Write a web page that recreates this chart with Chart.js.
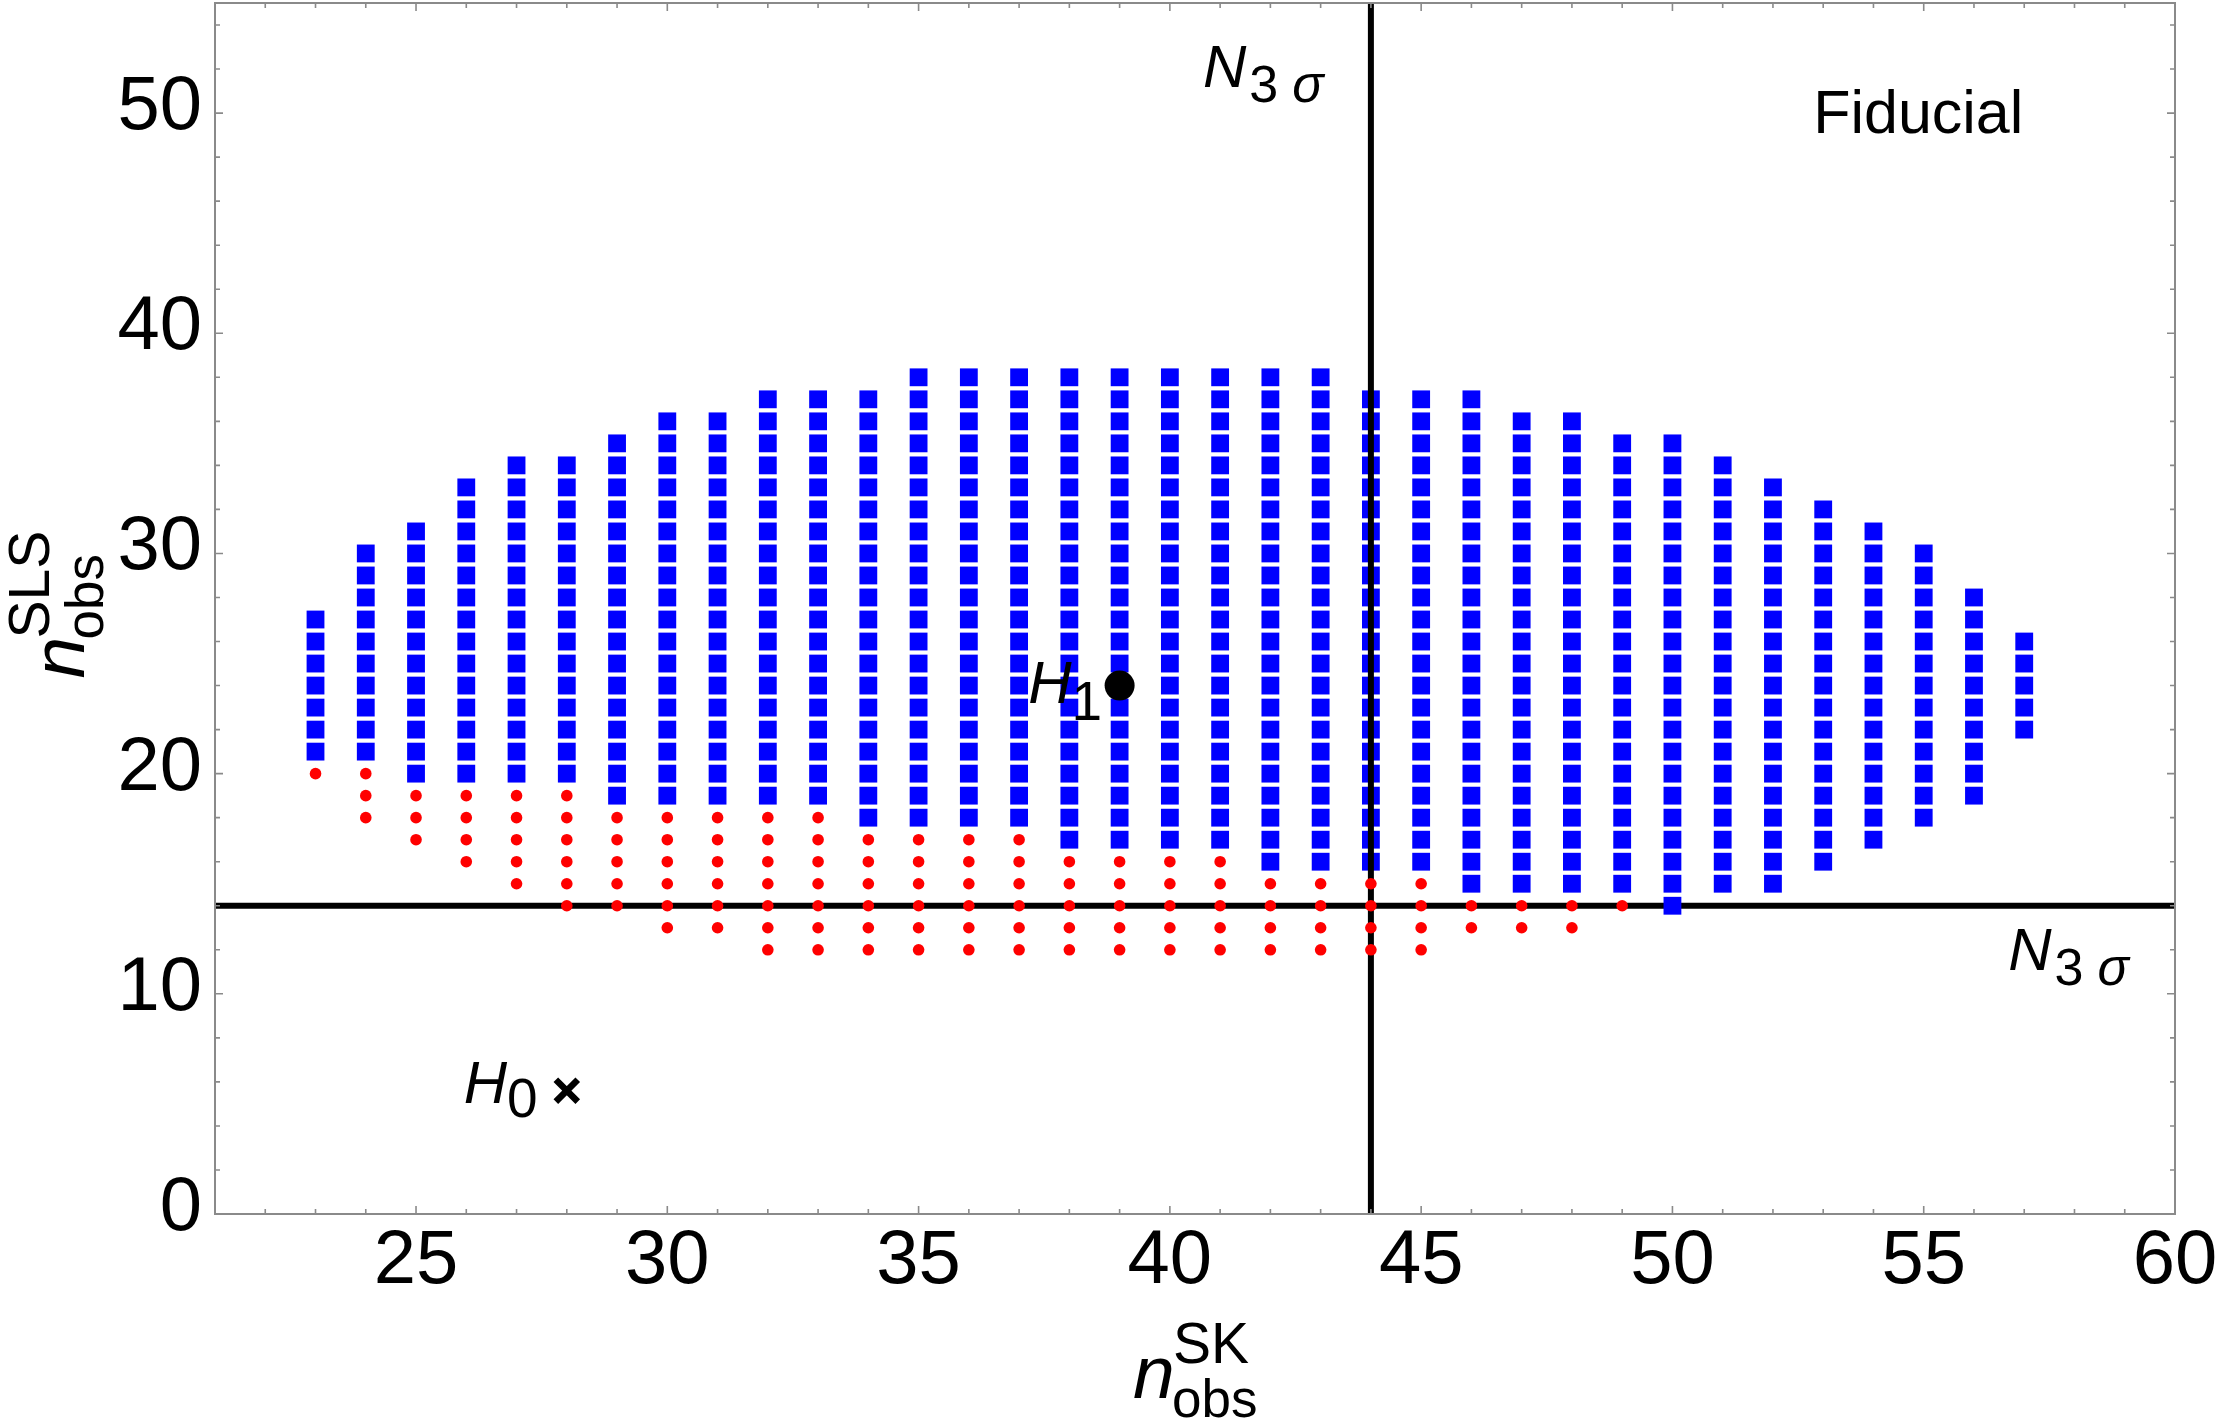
<!DOCTYPE html>
<html>
<head>
<meta charset="utf-8">
<script src="https://cdn.jsdelivr.net/npm/chart.js@4.4.1/dist/chart.umd.min.js"></script>
<style>
html,body{margin:0;padding:0;background:#fff;overflow:hidden}
canvas{display:block}
</style>
</head>
<body>
<canvas id="c" width="2221" height="1425"></canvas>
<script>
// ---- data ----
// blue squares: every integer n_obs^SLS from low to high in each n_obs^SK column
const skColumns   = [23,24,25,26,27,28,29,30,31,32,33,34,35,36,37,38,39,40,41,42,43,44,45,46,47,48,49,50,51,52,53,54,55,56,57];
const slsBlueLow  = [21,21,20,20,20,20,19,19,19,19,19,18,18,18,18,17,17,17,17,16,16,16,16,15,15,15,15,14,15,15,16,17,18,19,22];
const slsBlueHigh = [27,30,31,33,34,34,35,36,36,37,37,37,38,38,38,38,38,38,38,38,38,37,37,37,36,36,35,35,34,33,32,31,30,28,26];
// red dots
const skRedColumns = [23,24,25,26,27,28,29,30,31,32,33,34,35,36,37,38,39,40,41,42,43,44,45,46,47,48,49];
const slsRedLow    = [20,18,17,16,15,14,14,13,13,12,12,12,12,12,12,12,12,12,12,12,12,12,12,13,13,13,14];
const slsRedHigh   = [20,20,19,19,19,19,18,18,18,18,18,17,17,17,17,16,16,16,16,15,15,15,15,14,14,14,14];
// hypotheses
const h1Point = [39, 24];
const h0Point = [28, 5.6];
// 3 sigma thresholds
const n3SigmaSK  = 44;
const n3SigmaSLS = 14;
// axes
const xRange = [21, 60];
const yRange = [0, 55];
const xTickValues = [25,30,35,40,45,50,55,60];
const yTickValues = [0,10,20,30,40,50];

// ---- build point lists ----
const bluePts = [];
skColumns.forEach((x, i) => {
  for (let y = slsBlueLow[i]; y <= slsBlueHigh[i]; y++) bluePts.push({x, y});
});
const redPts = [];
skRedColumns.forEach((x, i) => {
  for (let y = slsRedLow[i]; y <= slsRedHigh[i]; y++) redPts.push({x, y});
});

const FAM = '"Liberation Sans", Arial, Helvetica, sans-serif';

function drawRich(ctx, x, y, segs) {
  let cx = x;
  ctx.textAlign = 'left';
  ctx.textBaseline = 'alphabetic';
  for (const s of segs) {
    ctx.font = s.font;
    cx += (s.gap || 0);
    const px = (s.x !== undefined) ? x + s.x : cx;
    ctx.fillText(s.text, px, y + (s.dy || 0));
    cx = px + ctx.measureText(s.text).width;
  }
}

function axisTitleSegs(sup) {
  return [
    {text: 'n', font: 'italic 75px ' + FAM, x: 0},
    {text: sup, font: '57px ' + FAM, x: 40, dy: -35},
    {text: 'obs', font: '53px ' + FAM, x: 39, dy: 19}
  ];
}

const decorPlugin = {
  id: 'decor',
  afterDraw(chart) {
    const ctx = chart.ctx;
    const xs = chart.scales.x, ys = chart.scales.y;
    const a = chart.chartArea;
    ctx.save();
    // frame
    ctx.strokeStyle = '#8a8a8a';
    ctx.lineWidth = 2;
    ctx.strokeRect(a.left, a.top, a.right - a.left, a.bottom - a.top);
    // ticks (inward, all four sides)
    ctx.lineWidth = 1.6;
    ctx.beginPath();
    for (let v = Math.ceil(xRange[0]); v <= xRange[1]; v++) {
      const p = xs.getPixelForValue(v);
      const len = (v % 5 === 0) ? 8 : 5;
      ctx.moveTo(p, a.bottom); ctx.lineTo(p, a.bottom - len);
      ctx.moveTo(p, a.top); ctx.lineTo(p, a.top + len);
    }
    for (let v = yRange[0]; v <= yRange[1]; v += 2) {
      const p = ys.getPixelForValue(v);
      const len = (v % 10 === 0) ? 8 : 5;
      ctx.moveTo(a.left, p); ctx.lineTo(a.left + len, p);
      ctx.moveTo(a.right, p); ctx.lineTo(a.right - len, p);
    }
    ctx.stroke();

    // in-plot labels
    ctx.fillStyle = '#000';
    const n3 = [
      {text: 'N', font: 'italic 60px ' + FAM},
      {text: '3', font: '52px ' + FAM, gap: 3, dy: 15},
      {text: '\u03C3', font: 'italic 52px ' + FAM, gap: 14, dy: 15}
    ];
    drawRich(ctx, xs.getPixelForValue(40.66), ys.getPixelForValue(51.19), n3);
    drawRich(ctx, xs.getPixelForValue(56.68), ys.getPixelForValue(11.08), n3);
    drawRich(ctx, xs.getPixelForValue(52.80), ys.getPixelForValue(49.10), [{text: 'Fiducial', font: '61px ' + FAM}]);
    drawRich(ctx, xs.getPixelForValue(37.18), ys.getPixelForValue(23.21), [
      {text: 'H', font: 'italic 60px ' + FAM},
      {text: '1', font: '55px ' + FAM, dy: 17}
    ]);
    drawRich(ctx, xs.getPixelForValue(25.95), ys.getPixelForValue(5.05), [
      {text: 'H', font: 'italic 60px ' + FAM},
      {text: '0', font: '55px ' + FAM, dy: 14}
    ]);

    // axis titles
    const cxp = (a.left + a.right) / 2;
    drawRich(ctx, cxp - 62, a.bottom + 184, axisTitleSegs('SK'));
    const cyp = (a.top + a.bottom) / 2;
    ctx.save();
    ctx.translate(84, cyp + 70);
    ctx.rotate(-Math.PI / 2);
    drawRich(ctx, 0, 0, axisTitleSegs('SLS'));
    ctx.restore();

    ctx.restore();
  }
};

const tickFont = {family: FAM, size: 76};

new Chart(document.getElementById('c').getContext('2d'), {
  type: 'scatter',
  data: {
    datasets: [
      {label: 'H1', data: [{x: h1Point[0], y: h1Point[1]}], pointStyle: 'circle', pointRadius: 15,
       backgroundColor: '#000', borderColor: '#000', borderWidth: 0, order: 1},
      {label: 'H0', data: [{x: h0Point[0], y: h0Point[1]}], pointStyle: 'crossRot', pointRadius: 15.5,
       backgroundColor: '#000', borderColor: '#000', borderWidth: 6.5, order: 1},
      {label: 'below', data: redPts, pointStyle: 'circle', pointRadius: 5.8,
       backgroundColor: '#ff0000', borderColor: '#ff0000', borderWidth: 0, order: 2},
      {label: 'N3sigma SK', type: 'line', data: [{x: n3SigmaSK, y: yRange[0]}, {x: n3SigmaSK, y: yRange[1]}],
       borderColor: '#000', borderWidth: 6, pointRadius: 0, fill: false, tension: 0, order: 3},
      {label: 'above', data: bluePts, pointStyle: 'rect', pointRadius: 12.6,
       backgroundColor: '#0000ff', borderColor: '#0000ff', borderWidth: 0, order: 4},
      {label: 'N3sigma SLS', type: 'line', data: [{x: xRange[0], y: n3SigmaSLS}, {x: xRange[1], y: n3SigmaSLS}],
       borderColor: '#000', borderWidth: 6, pointRadius: 0, fill: false, tension: 0, order: 5}
    ]
  },
  options: {
    responsive: false,
    animation: false,
    events: [],
    layout: {autoPadding: false, padding: {left: 0, right: 46, top: 3, bottom: 0}},
    plugins: {legend: {display: false}, tooltip: {enabled: false}},
    scales: {
      x: {
        type: 'linear', position: 'bottom', min: xRange[0], max: xRange[1],
        grid: {display: false, drawTicks: false}, border: {display: false},
        afterBuildTicks: s => { s.ticks = xTickValues.map(v => ({value: v})); },
        afterFit: s => { s.height = 211; s.paddingLeft = 0; s.paddingRight = 0; },
        ticks: {font: tickFont, color: '#000', padding: 2, maxRotation: 0, autoSkip: false}
      },
      y: {
        type: 'linear', position: 'left', min: yRange[0], max: yRange[1],
        grid: {display: false, drawTicks: false}, border: {display: false},
        afterBuildTicks: s => { s.ticks = yTickValues.map(v => ({value: v})); },
        afterFit: s => { s.width = 215; s.paddingTop = 0; s.paddingBottom = 0; },
        ticks: {font: tickFont, color: '#000', padding: 13, labelOffset: -5, autoSkip: false}
      }
    }
  },
  plugins: [decorPlugin]
});
</script>
</body>
</html>
